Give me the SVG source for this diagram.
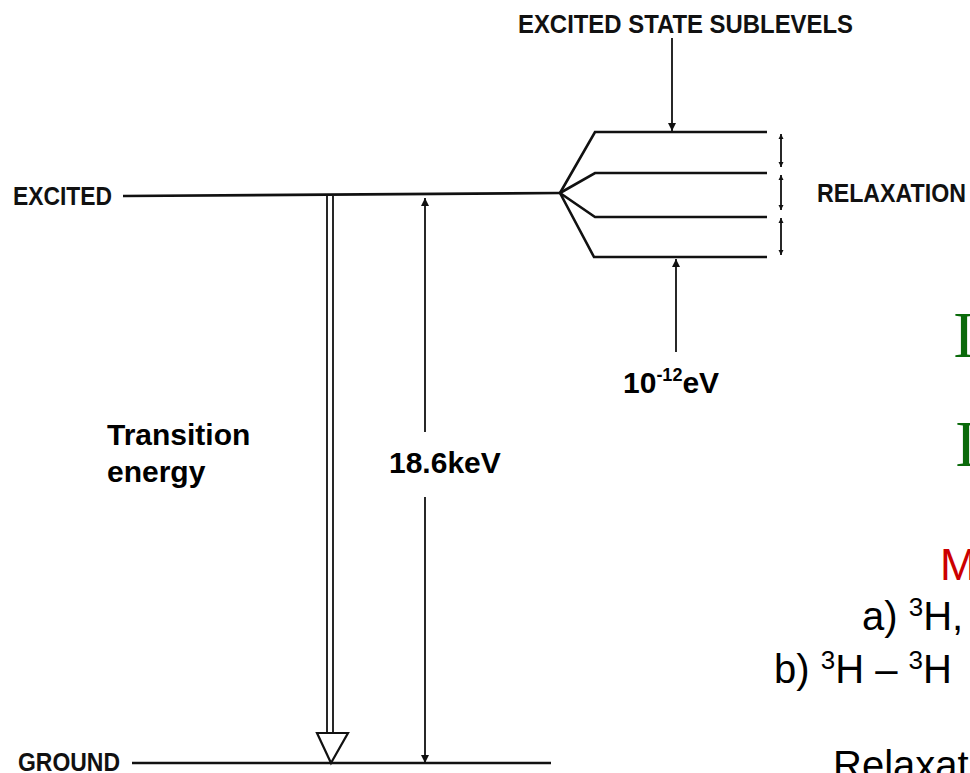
<svg xmlns="http://www.w3.org/2000/svg" width="970" height="773" viewBox="0 0 970 773">
<style>
.ln{stroke:#111;stroke-width:2.6;fill:none;stroke-linecap:butt}
.thin{stroke:#111;stroke-width:1.8;fill:none}
.cap{font-family:"Liberation Sans",Arial,sans-serif;font-weight:bold;fill:#111}
.lbl{font-family:"Liberation Sans",Arial,sans-serif;font-weight:bold;font-size:30px;fill:#000}
.body{font-family:"Liberation Sans",Arial,sans-serif;font-size:40px;fill:#000}
.red{font-family:"Liberation Sans",Arial,sans-serif;font-size:44px;fill:#cc0000}
.serif{font-family:"Liberation Serif","Times New Roman",serif;font-size:66px;fill:#0a6a0a}
</style>
<defs>
<marker id="ah" viewBox="0 0 10 10" refX="10" refY="5" markerWidth="5" markerHeight="6" orient="auto-start-reverse" markerUnits="userSpaceOnUse">
<path d="M0,0 L10,5 L0,10 z" fill="#111"/>
</marker>
<marker id="ahs" viewBox="0 0 10 10" refX="10" refY="5" markerWidth="9" markerHeight="8" orient="auto-start-reverse" markerUnits="userSpaceOnUse">
<path d="M0,0 L10,5 L0,10 z" fill="#111"/>
</marker>
</defs>

<g id="excited-level">
<text class="cap" x="13" y="205" font-size="25" textLength="99" lengthAdjust="spacingAndGlyphs">EXCITED</text>
<path class="ln" d="M123,196 L560,193"/>
</g>

<g id="ground-level">
<text class="cap" x="18" y="771" font-size="25" textLength="102" lengthAdjust="spacingAndGlyphs">GROUND</text>
<path class="ln" d="M132,763 L551,763"/>
</g>

<g id="sublevels">
<path class="ln" d="M560,193 L595,132 L767,132"/>
<path class="ln" d="M560,193 L595,173 L767,173"/>
<path class="ln" d="M560,193 L595,217 L767,217"/>
<path class="ln" d="M560,193 L594,257 L767,257"/>
</g>

<g id="sublevel-label">
<text class="cap" x="518" y="33" font-size="25" textLength="335" lengthAdjust="spacingAndGlyphs">EXCITED STATE SUBLEVELS</text>
</g>

<g id="relaxation-label">
<text class="cap" x="817" y="202" font-size="25" textLength="149" lengthAdjust="spacingAndGlyphs">RELAXATION</text>
</g>

<g id="transition-label">
<text class="lbl" x="107" y="445">Transition</text>
<text class="lbl" x="107" y="482">energy</text>
</g>

<g id="energy-label">
<text class="lbl" x="389" y="473">18.6keV</text>
</g>

<g id="splitting-label">
<text class="lbl" x="623" y="393">10<tspan font-size="18" dy="-12">-12</tspan><tspan dy="12">eV</tspan></text>
</g>

<g id="right-text">
<text class="serif" x="953" y="357">I</text>
<text class="serif" x="955" y="466">I</text>
<text class="red" x="940" y="580">M</text>
<text class="body" x="862" y="630">a) <tspan font-size="26" dy="-14">3</tspan><tspan dy="14">H,</tspan></text>
<text class="body" x="774" y="683">b) <tspan font-size="26" dy="-14">3</tspan><tspan dy="14">H – </tspan><tspan font-size="26" dy="-14">3</tspan><tspan dy="14">H</tspan></text>
<text class="body" x="833" y="779">Relaxat</text>
</g>

<g id="connectors">
<path class="thin" d="M327,196 L327,733 M333,196 L333,733"/>
<path d="M317,733 L348,733 L331,763 z" fill="#fff" stroke="#111" stroke-width="2.2" stroke-linejoin="miter"/>
<path class="thin" d="M425,432 L425,198" marker-end="url(#ahs)"/>
<path class="thin" d="M425,497 L425,763" marker-end="url(#ahs)"/>
<path class="thin" d="M672,38 L672,131" marker-end="url(#ahs)"/>
<path class="thin" d="M676,352 L676,259" marker-end="url(#ahs)"/>
<path class="thin" stroke-width="1.6" d="M781,134 L781,167" marker-start="url(#ah)" marker-end="url(#ah)"/>
<path class="thin" stroke-width="1.6" d="M781,175 L781,210" marker-start="url(#ah)" marker-end="url(#ah)"/>
<path class="thin" stroke-width="1.6" d="M781,218 L781,255" marker-start="url(#ah)" marker-end="url(#ah)"/>
</g>
</svg>
